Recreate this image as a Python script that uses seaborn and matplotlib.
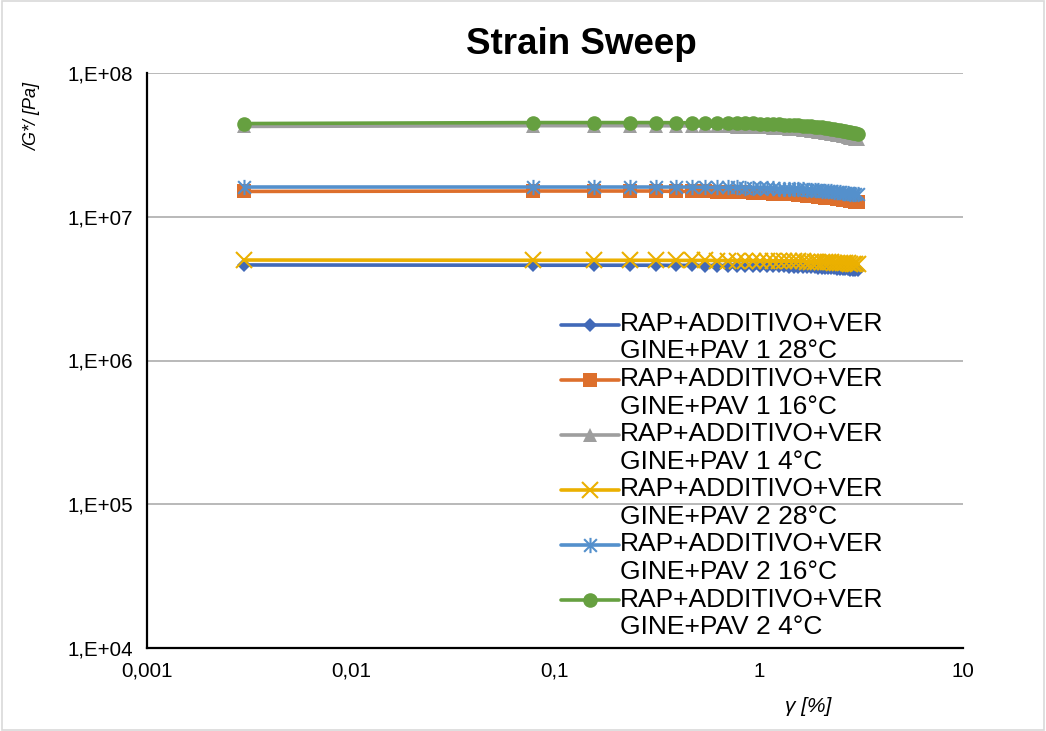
import numpy as np
import pandas as pd
import seaborn as sns
import matplotlib
matplotlib.use("Agg")
import matplotlib.pyplot as plt
from matplotlib.ticker import FixedLocator, FuncFormatter, NullLocator
from matplotlib.legend_handler import HandlerLine2D
from matplotlib.path import Path
from matplotlib.patches import Rectangle

# ---------------- data ----------------
strain = [0.003, 0.078, 0.156, 0.234, 0.312, 0.39, 0.468, 0.546, 0.624, 0.702,
          0.78, 0.858, 0.936, 1.014, 1.092, 1.17, 1.248, 1.326, 1.404, 1.482,
          1.56, 1.638, 1.716, 1.794, 1.872, 1.95, 2.028, 2.106, 2.184, 2.262,
          2.34, 2.418, 2.496, 2.574, 2.652, 2.73, 2.808, 2.886, 2.964, 3.042]

pav1_28 = [4.62, 4.60, 4.60, 4.60, 4.60, 4.59, 4.59, 4.58, 4.58, 4.57,
           4.57, 4.56, 4.55, 4.55, 4.54, 4.53, 4.52, 4.51, 4.50, 4.49,
           4.48, 4.47, 4.46, 4.45, 4.44, 4.43, 4.42, 4.40, 4.39, 4.38,
           4.37, 4.35, 4.34, 4.33, 4.31, 4.30, 4.28, 4.27, 4.25, 4.23]  # x1e6
pav1_16 = [1.50, 1.51, 1.51, 1.51, 1.51, 1.50, 1.50, 1.50, 1.49, 1.49,
           1.48, 1.48, 1.47, 1.47, 1.46, 1.45, 1.45, 1.44, 1.43, 1.43,
           1.42, 1.41, 1.40, 1.40, 1.39, 1.38, 1.37, 1.36, 1.35, 1.35,
           1.34, 1.33, 1.32, 1.31, 1.30, 1.30, 1.29, 1.28, 1.27, 1.26]  # x1e7
pav1_4 = [4.25, 4.30, 4.30, 4.30, 4.30, 4.29, 4.28, 4.27, 4.26, 4.25,
          4.24, 4.23, 4.21, 4.20, 4.18, 4.16, 4.14, 4.12, 4.10, 4.07,
          4.05, 4.02, 4.00, 3.97, 3.94, 3.91, 3.88, 3.85, 3.82, 3.78,
          3.75, 3.72, 3.68, 3.65, 3.62, 3.58, 3.55, 3.52, 3.48, 3.45]  # x1e7
pav2_28 = [5.00, 4.98, 4.98, 4.98, 4.98, 4.97, 4.97, 4.97, 4.96, 4.96,
           4.96, 4.95, 4.95, 4.94, 4.94, 4.93, 4.93, 4.92, 4.91, 4.91,
           4.90, 4.89, 4.88, 4.87, 4.86, 4.85, 4.84, 4.83, 4.82, 4.81,
           4.80, 4.78, 4.77, 4.76, 4.74, 4.73, 4.71, 4.70, 4.68, 4.66]  # x1e6
pav2_16 = [1.61, 1.61, 1.61, 1.61, 1.61, 1.61, 1.61, 1.60, 1.60, 1.60,
           1.60, 1.59, 1.59, 1.59, 1.58, 1.58, 1.57, 1.57, 1.56, 1.56,
           1.55, 1.55, 1.54, 1.54, 1.53, 1.53, 1.52, 1.51, 1.51, 1.50,
           1.49, 1.49, 1.48, 1.47, 1.47, 1.46, 1.45, 1.45, 1.44, 1.43]  # x1e7
pav2_4 = [4.45, 4.52, 4.52, 4.52, 4.52, 4.51, 4.51, 4.50, 4.50, 4.49,
          4.48, 4.47, 4.46, 4.45, 4.43, 4.42, 4.40, 4.38, 4.36, 4.34,
          4.32, 4.30, 4.28, 4.25, 4.23, 4.20, 4.18, 4.15, 4.12, 4.09,
          4.06, 4.03, 4.00, 3.97, 3.94, 3.91, 3.88, 3.85, 3.82, 3.79]  # x1e7

series_labels = ["RAP+ADDITIVO+VER\nGINE+PAV 1 28°C",
                 "RAP+ADDITIVO+VER\nGINE+PAV 1 16°C",
                 "RAP+ADDITIVO+VER\nGINE+PAV 1 4°C",
                 "RAP+ADDITIVO+VER\nGINE+PAV 2 28°C",
                 "RAP+ADDITIVO+VER\nGINE+PAV 2 16°C",
                 "RAP+ADDITIVO+VER\nGINE+PAV 2 4°C"]
series_values = [np.array(pav1_28) * 1e6, np.array(pav1_16) * 1e7,
                 np.array(pav1_4) * 1e7, np.array(pav2_28) * 1e6,
                 np.array(pav2_16) * 1e7, np.array(pav2_4) * 1e7]

x_ticks = [0.001, 0.01, 0.1, 1, 10]
y_ticks = [1e4, 1e5, 1e6, 1e7, 1e8]

# ---------------- styles ----------------
colors = ["#4169B8", "#DD6F2C", "#9E9E9E", "#EBB000", "#5490CC", "#66A040"]
star = Path([(-0.5, -0.5), (0.5, 0.5), (-0.5, 0.5), (0.5, -0.5), (0, -0.6), (0, 0.6)],
            [Path.MOVETO, Path.LINETO, Path.MOVETO, Path.LINETO, Path.MOVETO, Path.LINETO])
markers = ["D", "s", "^", "x", star, "o"]
msizes = [7, 9.5, 10, 11, 11, 10.5]

rows = []
for lab, vals in zip(series_labels, series_values):
    for xv, yv in zip(strain, vals):
        rows.append((lab, xv, yv))
df = pd.DataFrame(rows, columns=["series", "strain", "G"])

sns.set_style("white")
plt.rcParams["font.family"] = ["Liberation Sans", "DejaVu Sans"]
plt.rcParams["text.color"] = "black"
plt.rcParams["xtick.color"] = "black"
plt.rcParams["ytick.color"] = "black"
plt.rcParams["axes.labelcolor"] = "black"

fig = plt.figure(figsize=(10.46, 7.31), dpi=100)
ax = fig.add_axes([147 / 1046, 1 - 648 / 731, (963 - 147) / 1046, (648 - 73) / 731])

for i, lab in enumerate(series_labels):
    sub = df[df["series"] == lab]
    sns.lineplot(data=sub, x="strain", y="G", ax=ax, color=colors[i],
                 marker=markers[i], markersize=msizes[i], linewidth=2.6,
                 markeredgewidth=1.5 if i in (3, 4) else 0,
                 markeredgecolor=colors[i], label=lab, zorder=3 + i,
                 estimator=None, sort=False)

ax.set_xscale("log")
ax.set_yscale("log")
ax.set_xlim(0.001, 10)
ax.set_ylim(1e4, 1e8)
ax.xaxis.set_major_locator(FixedLocator(x_ticks))
ax.yaxis.set_major_locator(FixedLocator(y_ticks))
ax.xaxis.set_minor_locator(NullLocator())
ax.yaxis.set_minor_locator(NullLocator())
ax.xaxis.set_major_formatter(FuncFormatter(lambda v, p: (f"{v:g}").replace(".", ",")))
ax.yaxis.set_major_formatter(FuncFormatter(lambda v, p: f"1,E+{int(round(np.log10(v))):02d}"))
ax.tick_params(axis="both", which="major", direction="out", length=7, width=1.2,
               color="black", labelcolor="black", labelsize=14.8, pad=3)
ax.yaxis.grid(True, color="#A6A6A6", linewidth=1.1)
ax.xaxis.grid(False)
for s in ["top", "right"]:
    ax.spines[s].set_visible(False)
for s in ["left", "bottom"]:
    ax.spines[s].set_color("black")
    ax.spines[s].set_linewidth(1.6)
ax.set_xlabel("")
ax.set_ylabel("")

fig.text(808 / 1046, 1 - 707 / 731, "γ [%]", style="italic", fontsize=15,
         ha="center", va="center", color="black")
fig.text(33 / 1046, 1 - 117 / 731, "/G*/ [Pa]", style="italic", fontsize=13,
         ha="center", va="center", rotation=90, color="black")
fig.text(581 / 1046, 1 - 44 / 731, "Strain Sweep", fontweight="bold", fontsize=26.5,
         ha="center", va="center", color="black")


class ShiftedHandler(HandlerLine2D):
    def create_artists(self, legend, orig_handle, xdescent, ydescent, width,
                       height, fontsize, trans):
        arts = super().create_artists(legend, orig_handle, xdescent, ydescent,
                                      width, height, fontsize, trans)
        for a in arts:
            yd = np.asarray(a.get_ydata(), dtype=float)
            a.set_ydata(yd + 9.7)
        return arts


handles, labels = ax.get_legend_handles_labels()
leg = ax.legend(handles, labels, loc="upper left",
                bbox_to_anchor=(561 / 1046, 1 - 312 / 731),
                bbox_transform=fig.transFigure, frameon=False, fontsize=19,
                handlelength=2.2, handletextpad=0.05, labelspacing=0.14,
                borderpad=0, borderaxespad=0, numpoints=1,
                handler_map={h: ShiftedHandler() for h in handles})
for t in leg.get_texts():
    t.set_linespacing(1.18)
    t.set_color("black")

fig.patches.append(Rectangle((0.002, 0.002), 0.996, 0.996, transform=fig.transFigure,
                             fill=False, edgecolor="#D9D9D9", linewidth=1.2))

fig.savefig("out.png", dpi=100)
